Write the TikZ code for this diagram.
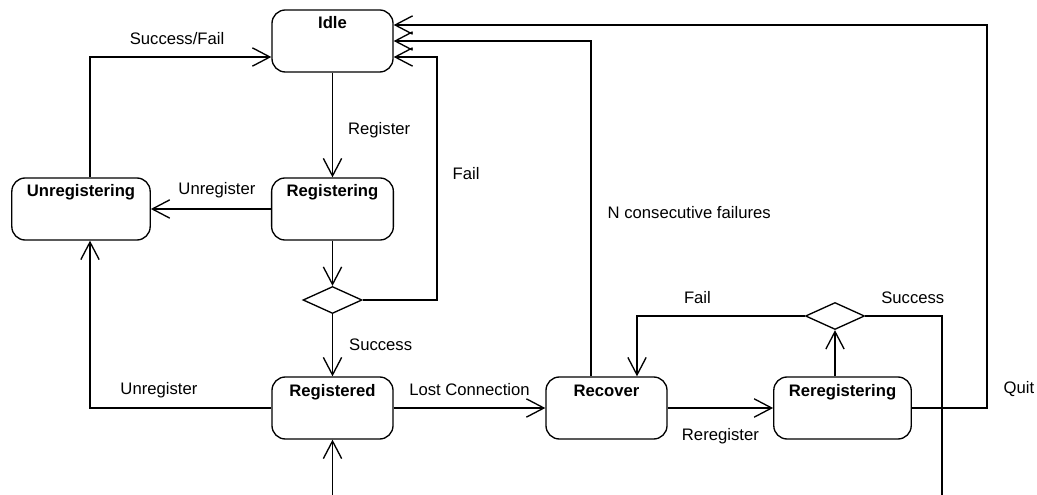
\documentclass[tikz,border=0pt]{standalone}
\usepackage{fontspec}
\setmainfont{Liberation Sans}
\usetikzlibrary{arrows.meta,shapes.geometric}

\tikzset{every picture/.style={line width=0.8pt}}
\tikzset{
	state/.style={draw,rectangle,rounded corners=8pt,font=\bfseries,
		minimum width=72.6pt,inner xsep=9pt,inner ysep=4pt,
		text height=7.4pt,text depth=21.8pt},
	choice/.style={draw,diamond,minimum width=35.4pt,minimum height=16.2pt,inner sep=0pt},
	lbl/.style={inner sep=0pt}
}

\begin{document}
\begin{tikzpicture}[>={Straight Barb[length=10.5pt,width=11pt]},x=0.6pt,y=-0.6pt]
	\useasboundingbox (0,0) rectangle (1037,495);
	%Trang thai
	\node[state] (idle) at (332.5,41) {Idle};
	\node[state] (reging) at (332.5,209) {Registering};
	\node[state] (unreging) at (81,209) {Unregistering};
	\node[state] (reged) at (332.5,408) {Registered};
	\node[state] (recover) at (606.5,408) {Recover};
	\node[state] (rereg) at (842.5,408) {Reregistering};
	%Re nhanh
	\node[choice] (dia1) at (332.5,300) {};
	\node[choice] (dia2) at (835,316) {};
	%Diem phu
	\coordinate (fa) at (437,57);
	\coordinate (in) at (332.5,495);
	\coordinate (out) at (942,495);
	\coordinate (quit) at (987,408);
	%Dang ky
	\draw[->] (idle) -- (reging) node[lbl,pos=0.55,right=9pt]{Register};
	\draw[->] (reging) -- (unreging) node[lbl,pos=0.45,yshift=11.4pt]{Unregister};
	\draw[->] (reging) -- (dia1);
	\draw[->] (dia1.east) -| (fa) node[lbl,pos=0.76,right=9pt]{Fail} -- (fa -| idle.east);
	\draw[->] (dia1) -- (reged) node[lbl,midway,right=9.6pt]{Success};
	\draw[->] (in) -- (reged);
	%Huy dang ky
	\draw[->] (reged.west) -| ([xshift=5.4pt]unreging.south) node[lbl,pos=0.31,yshift=10.8pt]{Unregister};
	\draw[->] ([xshift=5.4pt]unreging.north) |- ([yshift=-9.6pt]idle.west) node[lbl,pos=0.74,yshift=10.8pt]{Success/Fail};
	%Mat ket noi
	\draw[->] (reged) -- (recover) node[lbl,midway,yshift=10.8pt]{Lost Connection};
	\draw[->] (recover) -- (rereg) node[lbl,midway,yshift=-16.8pt]{Reregister};
	\draw[->] (rereg.north -| dia2) -- (dia2);
	\draw[->] (dia2.west) -| ([xshift=18.3pt]recover.north) node[lbl,pos=0.32,yshift=10.8pt]{Fail};
	\draw (dia2.east) -| (out) node[lbl,pos=0.31,yshift=10.8pt]{Success};
	\draw[->] ([xshift=-9.3pt]recover.north) |- (idle.east) node[lbl,pos=0.244,right=9.6pt]{N consecutive failures};
	\draw[->] (rereg.east) -- (quit) node[lbl,right=9.6pt,yshift=11.4pt]{Quit} |- ([yshift=9.6pt]idle.east);
\end{tikzpicture}
\end{document}
